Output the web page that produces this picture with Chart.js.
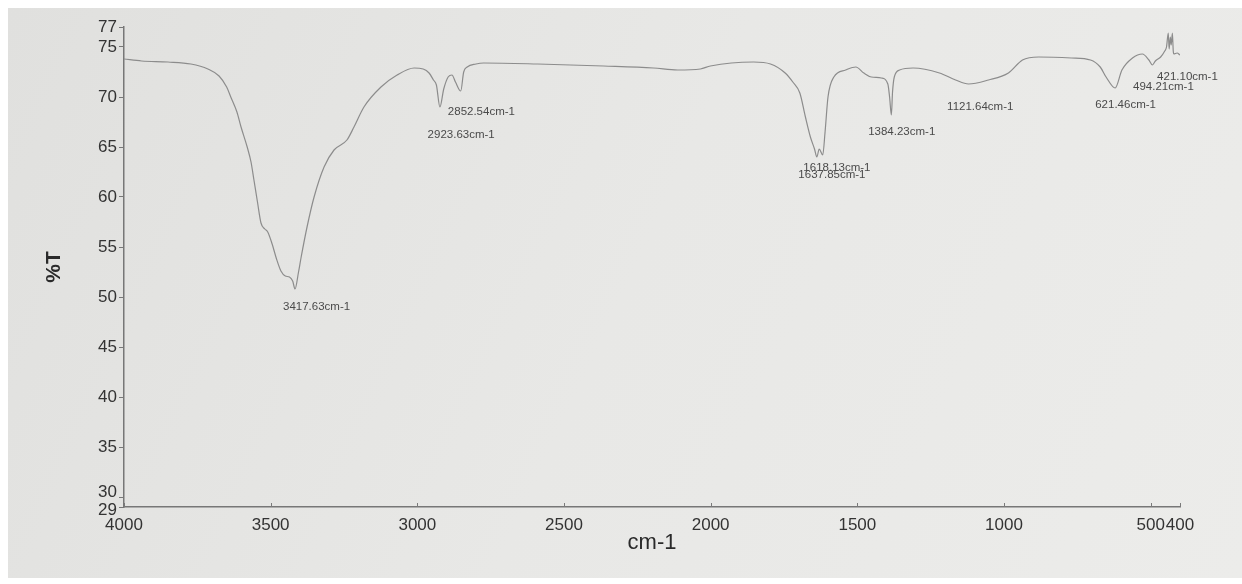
<!DOCTYPE html>
<html>
<head>
<meta charset="utf-8">
<script src="https://cdn.jsdelivr.net/npm/chart.js@4/dist/chart.umd.min.js"></script>
<style>
  html, body { margin: 0; padding: 0; background: #ffffff; }
  #wrap { width: 1242px; height: 584px; }
</style>
</head>
<body>
<div id="wrap"><canvas id="c" width="1242" height="584"></canvas></div>
<script>
// ---- data ----
const wavenumbers = [4000,3940,3850,3772,3714,3676,3650,3636,3615,3601,3580,3567,3557,3545,3533,3520,3510,3495,3480,3465,3450,3436,3425,3417,3405,3396,3376,3352,3318,3284,3240,3216,3182,3124,3069,3011,2980,2960,2945,2935,2923,2910,2895,2882,2870,2852,2842,2830,2800,2774,2590,2365,2195,2113,2035,2001,1854,1796,1746,1720,1696,1677,1660,1646,1638,1630,1618,1610,1600,1580,1540,1505,1478,1452,1418,1396,1390,1384,1380,1374,1356,1310,1220,1165,1121,1053,985,937,882,770,705,672,652,621,598,562,528,506,494,484,466,452,446,440,437,433,430,426,423,421,410,400];
const transmittance = [73.8,73.6,73.5,73.3,72.8,72.1,71.0,70.0,68.5,67.0,65.0,63.5,61.7,59.5,57.4,56.8,56.5,55.3,53.8,52.6,52.1,52.0,51.6,50.8,52.5,54.0,57.0,60.0,63.0,64.7,65.7,67.0,69.0,71.0,72.2,72.9,72.8,72.4,71.7,71.2,69.0,70.8,72.0,72.2,71.5,70.6,72.5,73.0,73.3,73.4,73.3,73.1,72.9,72.7,72.8,73.1,73.5,73.3,72.4,71.5,70.4,68.0,66.0,64.8,64.0,64.8,64.2,66.5,70.0,72.0,72.7,73.0,72.4,72.0,71.9,71.3,70.0,68.2,70.5,72.0,72.7,72.9,72.4,71.7,71.3,71.7,72.4,73.7,74.0,73.9,73.7,73.0,72.0,70.9,72.7,73.9,74.3,73.7,73.2,73.6,74.0,74.6,75.0,76.4,74.8,76.0,75.2,76.4,74.6,74.3,74.4,74.2];
const xTickValues = [4000,3500,3000,2500,2000,1500,1000,500,400];
const yTickValues = [29,30,35,40,45,50,55,60,65,70,75,77];
const peakLabels = ['3417.63cm-1','2852.54cm-1','2923.63cm-1','1618.13cm-1','1637.85cm-1','1384.23cm-1','1121.64cm-1','621.46cm-1','494.21cm-1','421.10cm-1'];
const xTitle = 'cm-1';
const yTitle = '%T';

// ---- layout: where each peak label's left edge sits (in axis units) ----
const labelAnchors = [[3458,49.0],[2896,68.5],[2965,66.2],[1684,62.9],[1701,62.2],[1463,66.5],[1194,69.0],[689,69.2],[560,71.0],[478,72.0]];
// the two crowded bottom y labels are nudged apart (pixels)
const crowdedY = { 30: -5, 29: 3 };

const FONT = "'Liberation Sans', Arial, sans-serif";
const TICK_COLOR = '#333333';

const points = wavenumbers.map((w, i) => ({ x: w, y: transmittance[i] }));

const paperPlugin = {
  id: 'paper',
  beforeDraw(chart) {
    const ctx = chart.ctx;
    ctx.save();
    ctx.fillStyle = '#ffffff';
    ctx.fillRect(0, 0, chart.width, chart.height);
    const g = ctx.createLinearGradient(8, 8, 1242, 578);
    g.addColorStop(0, '#e0e0de');
    g.addColorStop(0.5, '#e8e8e6');
    g.addColorStop(1, '#ececea');
    ctx.fillStyle = g;
    ctx.fillRect(8, 8, chart.width - 8, 570);
    ctx.restore();
  }
};

const extrasPlugin = {
  id: 'extras',
  afterDatasetsDraw(chart) {
    const ctx = chart.ctx;
    const xs = chart.scales.x, ys = chart.scales.y;
    ctx.save();
    // inward x tick marks
    ctx.strokeStyle = '#7a7a7a';
    ctx.lineWidth = 1;
    const yb = ys.getPixelForValue(29);
    xTickValues.forEach(v => {
      const px = Math.round(xs.getPixelForValue(v)) + 0.5;
      ctx.beginPath();
      ctx.moveTo(px, yb);
      ctx.lineTo(px, yb - 4);
      ctx.stroke();
    });
    // crowded y labels
    ctx.fillStyle = TICK_COLOR;
    ctx.font = '17px ' + FONT;
    ctx.textAlign = 'right';
    ctx.textBaseline = 'middle';
    Object.keys(crowdedY).forEach(k => {
      const v = Number(k);
      ctx.fillText(String(v), ys.left + ys.width - 7, ys.getPixelForValue(v) + crowdedY[k]);
    });
    // peak labels
    ctx.fillStyle = '#4a4a4a';
    ctx.font = '11.5px ' + FONT;
    ctx.textAlign = 'left';
    peakLabels.forEach((t, i) => {
      const a = labelAnchors[i];
      ctx.fillText(t, xs.getPixelForValue(a[0]), ys.getPixelForValue(a[1]));
    });
    ctx.restore();
  }
};

new Chart(document.getElementById('c'), {
  type: 'line',
  data: {
    datasets: [{
      data: points,
      borderColor: '#8c8c8c',
      borderWidth: 1.2,
      pointRadius: 0,
      fill: false,
      cubicInterpolationMode: 'monotone'
    }]
  },
  options: {
    responsive: false,
    animation: false,
    events: [],
    layout: { padding: { top: 27, right: 62, left: 0, bottom: 0 } },
    plugins: { legend: { display: false }, tooltip: { enabled: false } },
    scales: {
      x: {
        type: 'linear',
        reverse: true,
        min: 400,
        max: 4000,
        afterBuildTicks(scale) { scale.ticks = xTickValues.map(v => ({ value: v })); },
        afterFit(scale) { scale.height = 77; },
        ticks: { autoSkip: false, maxRotation: 0, padding: 8, color: TICK_COLOR, font: { family: FONT, size: 17 },
                 callback: v => String(v) },
        grid: { display: true, drawOnChartArea: false, drawTicks: false, tickLength: 0 },
        border: { display: true, color: '#777777', width: 1.5 },
        title: { display: true, text: xTitle, color: '#2a2a2a', font: { family: FONT, size: 22 }, padding: { top: 0, bottom: 28 } }
      },
      y: {
        min: 29,
        max: 77,
        afterBuildTicks(scale) { scale.ticks = yTickValues.map(v => ({ value: v })); },
        afterFit(scale) { scale.width = 124; },
        ticks: { autoSkip: false, padding: 2, color: TICK_COLOR, font: { family: FONT, size: 17 },
                 callback: v => (v in crowdedY ? '' : String(v)) },
        grid: { display: true, drawOnChartArea: false, drawTicks: true, tickLength: 5, color: '#777777' },
        border: { display: true, color: '#777777', width: 1.5 },
        title: { display: true, text: yTitle, color: '#2a2a2a', font: { family: FONT, size: 21, weight: 'bold' }, padding: { top: 42, bottom: 0 } }
      }
    }
  },
  plugins: [paperPlugin, extrasPlugin]
});
</script>
</body>
</html>
